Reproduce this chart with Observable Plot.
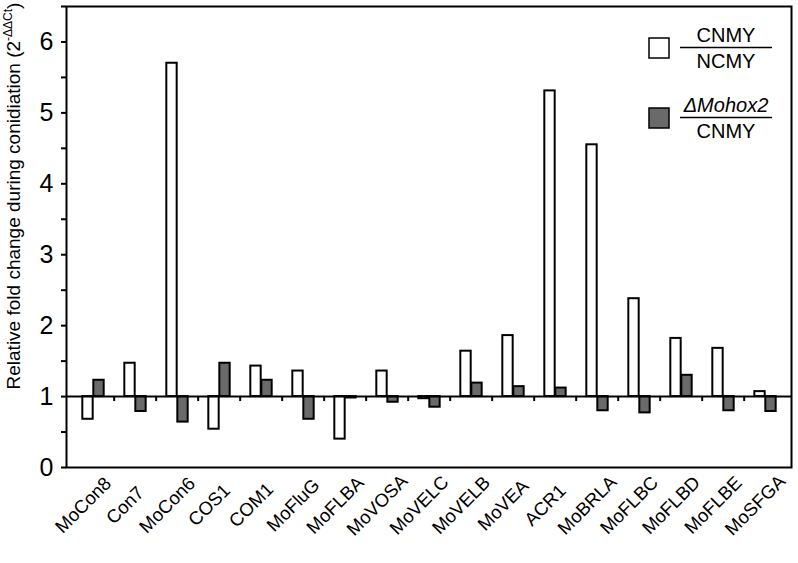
<!DOCTYPE html>
<html>
<head>
<meta charset="utf-8">
<script src="https://cdn.jsdelivr.net/npm/d3@7"></script>
<script src="https://cdn.jsdelivr.net/npm/@observablehq/plot@0.6"></script>
<style>
  html, body { margin: 0; padding: 0; background: white; }
  #chart svg { display: block; }
</style>
</head>
<body>
<div id="chart"></div>
<script>
// ---- data ----
const genes = ["MoCon8", "Con7", "MoCon6", "COS1", "COM1", "MoFluG", "MoFLBA", "MoVOSA", "MoVELC",
               "MoVELB", "MoVEA", "ACR1", "MoBRLA", "MoFLBC", "MoFLBD", "MoFLBE", "MoSFGA"];
const cnmyOverNcmy = [0.68, 1.47, 5.70, 0.54, 1.43, 1.36, 0.40, 1.36, 0.97,
                      1.64, 1.86, 5.31, 4.55, 2.38, 1.82, 1.68, 1.07];
const mohoxOverCnmy = [1.23, 0.79, 0.64, 1.47, 1.23, 0.68, 0.98, 0.92, 0.85,
                       1.19, 1.14, 1.12, 0.80, 0.77, 1.30, 0.80, 0.79];
const yMajorTicks = [0, 1, 2, 3, 4, 5, 6];
const yMinorTicks = [0.5, 1.5, 2.5, 3.5, 4.5, 5.5, 6.5];
const seriesNames = ["CNMY/NCMY", "ΔMohox2/CNMY"];
const seriesColors = ["#ffffff", "#6a6a6a"];

const rows = genes.map((g, i) => ({gene: g, a: cnmyOverNcmy[i], b: mohoxOverCnmy[i]}));

const W = 798, H = 563, mL = 66, mR = 7, mT = 6, mB = 96;
const step = (W - mL - mR) / genes.length;
const FONT = "'Liberation Sans', Arial, Helvetica, sans-serif";

const chart = Plot.plot({
  width: W, height: H,
  marginLeft: mL, marginRight: mR, marginTop: mT, marginBottom: mB,
  style: {fontFamily: FONT, background: "white", color: "black"},
  x: {domain: genes, padding: 0, axis: null},
  y: {domain: [0, 6.5], axis: null},
  marks: [
    Plot.barY(rows, {x: "gene", y1: 1, y2: "a", fill: seriesColors[0], stroke: "black", strokeWidth: 2,
                     insetLeft: step / 2 - 11, insetRight: step / 2}),
    Plot.barY(rows, {x: "gene", y1: 1, y2: "b", fill: seriesColors[1], stroke: "black", strokeWidth: 2,
                     insetLeft: step / 2, insetRight: step / 2 - 11}),
    Plot.ruleY([1], {stroke: "black", strokeWidth: 2}),
    Plot.ruleX(genes.slice(1), {x: d => d, y1: 1, y2: 0.93, dx: -step / 2, stroke: "black", strokeWidth: 2}),
    Plot.axisY({ticks: yMajorTicks, tickSize: 5, tickPadding: 8, fontSize: 25, strokeWidth: 2,
                tickFormat: d => String(d), label: null}),
    Plot.axisY({ticks: yMinorTicks, tickSize: 5, tickFormat: () => "", strokeWidth: 2, label: null}),
    Plot.text(genes, {x: d => d, frameAnchor: "bottom", rotate: -45, textAnchor: "middle",
                      dy: 42, dx: -6, fontSize: 18.5, fill: "black"}),
    Plot.frame({stroke: "black", strokeWidth: 2})
  ]
});

document.getElementById("chart").appendChild(chart);

// ---- y axis title with superscript ----
const svg = d3.select(chart);
const yt = svg.append("text")
  .attr("transform", "translate(20,196) rotate(-90)")
  .attr("text-anchor", "middle")
  .attr("font-family", FONT)
  .attr("font-size", 19)
  .attr("fill", "black");
yt.append("tspan").text("Relative fold change during conidiation (2");
yt.append("tspan").attr("font-size", 12).attr("dy", -8).text("-ΔΔCt");
yt.append("tspan").attr("dy", 8).text(")");

// ---- legend ----
const lg = svg.append("g").attr("font-family", FONT).attr("font-size", 20).attr("fill", "black");
const legendItems = [
  {color: seriesColors[0], num: "CNMY", den: "NCMY", italic: false, y: 38},
  {color: seriesColors[1], num: "ΔMohox2", den: "CNMY", italic: true, y: 108}
];
legendItems.forEach(it => {
  lg.append("rect").attr("x", 649).attr("y", it.y).attr("width", 20).attr("height", 20)
    .attr("fill", it.color).attr("stroke", "black").attr("stroke-width", 1.5);
  lg.append("line").attr("x1", 680).attr("x2", 772).attr("y1", it.y + 9.5).attr("y2", it.y + 9.5)
    .attr("stroke", "black").attr("stroke-width", 1.5);
  lg.append("text").attr("x", 726).attr("y", it.y + 4).attr("text-anchor", "middle")
    .attr("font-style", it.italic ? "italic" : "normal").text(it.num);
  lg.append("text").attr("x", 726).attr("y", it.y + 30).attr("text-anchor", "middle").text(it.den);
});
</script>
</body>
</html>
